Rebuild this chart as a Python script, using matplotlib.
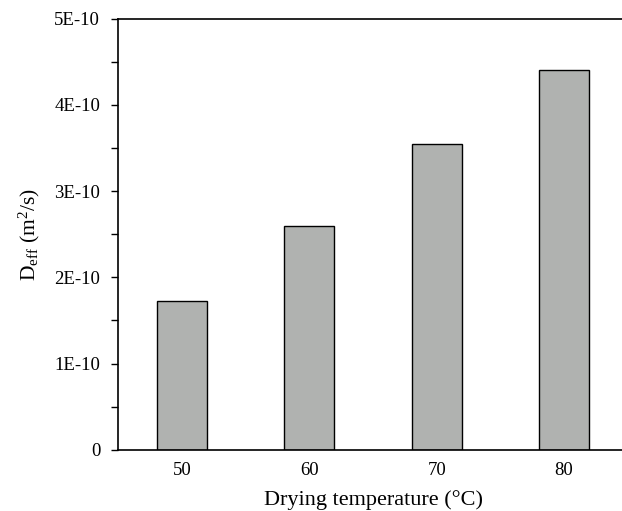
import matplotlib
matplotlib.use("Agg")
import matplotlib.pyplot as plt
from matplotlib.ticker import FixedLocator, FixedFormatter

plt.rcParams['font.family'] = ['Liberation Serif', 'DejaVu Serif']
plt.rcParams['mathtext.fontset'] = 'custom'
plt.rcParams['mathtext.rm'] = 'Liberation Serif'
plt.rcParams['mathtext.it'] = 'Liberation Serif:italic'

categories = ["50", "60", "70", "80"]
deff = [1.73e-10, 2.59e-10, 3.55e-10, 4.40e-10]
ytick_vals = [0, 1e-10, 2e-10, 3e-10, 4e-10, 5e-10]
ytick_labels = ["0", "1E-10", "2E-10", "3E-10", "4E-10", "5E-10"]

fig = plt.figure(figsize=(6.22, 5.11), dpi=100)
ax = fig.add_axes([118.3/622, 1 - 449.7/511, (627.7-118.3)/622, (449.7-18.7)/511])

x = list(range(len(categories)))
ax.bar(x, deff, width=0.395, color='#b0b2b0', edgecolor='black', linewidth=1.0, zorder=2)

ax.set_xlim(-0.5, 3.5)
ax.set_ylim(0, 5e-10)
ax.set_xticks(x)
ax.set_xticklabels(categories)
ax.tick_params(axis='x', length=0, pad=9, labelsize=13.5)
ax.yaxis.set_major_locator(FixedLocator(ytick_vals))
ax.yaxis.set_major_formatter(FixedFormatter(ytick_labels))
ax.yaxis.set_minor_locator(FixedLocator([0.5e-10, 1.5e-10, 2.5e-10, 3.5e-10, 4.5e-10]))
ax.tick_params(axis='y', which='major', direction='out', length=5, width=1, pad=8, labelsize=13.5)
ax.tick_params(axis='y', which='minor', direction='out', length=5, width=1)

for s in ax.spines.values():
    s.set_linewidth(1.2)
ax.spines['right'].set_visible(False)

ax.set_xlabel("Drying temperature (°C)", fontsize=16, labelpad=7.5)
ax.set_ylabel(r"D$_{\mathrm{eff}}$ (m$^{2}$/s)", fontsize=15.5, labelpad=9)

fig.savefig("out.png", dpi=100)
